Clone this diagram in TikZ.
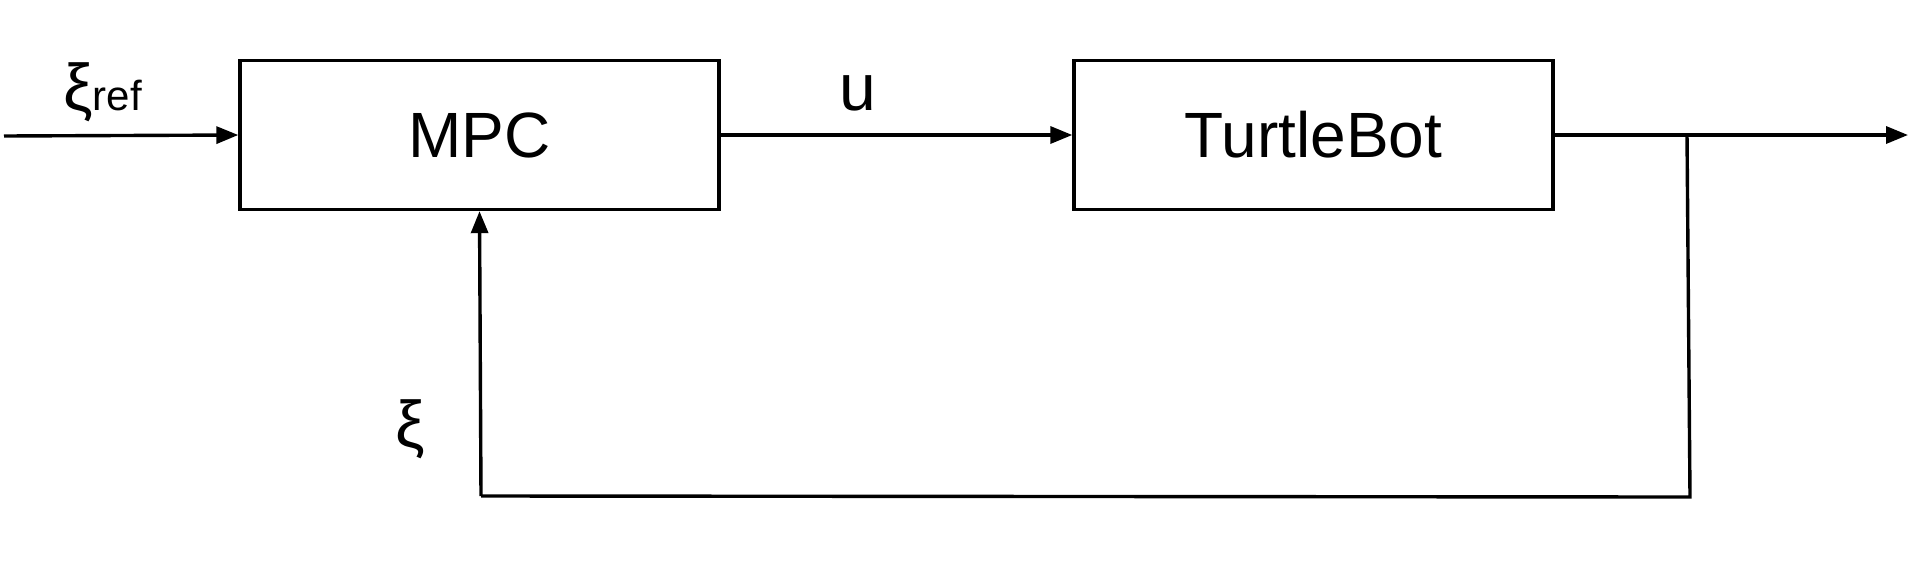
\documentclass[tikz,border=0pt]{standalone}
\usepackage{fontspec}
\setmainfont{Liberation Sans}
\usetikzlibrary{arrows.meta}
\tikzset{
  blockbox/.style={draw=black, line width=3.4pt, minimum width=479pt, minimum height=149pt, inner sep=0pt, font=\fontsize{64}{70}\selectfont},
  conn/.style={draw=black, line width=3.4pt},
  arr/.style={conn, -{Triangle[length=22pt,width=17pt]}},
  lbl/.style={inner sep=0pt, font=\fontsize{66}{72}\selectfont}
}
\begin{document}
\begin{tikzpicture}[x=1pt,y=-1pt]
\useasboundingbox (0,0) rectangle (1919,571);
\node[blockbox] (mpc) at (479.5,135) {MPC};
\node[blockbox] (tb) at (1313.5,135) {TurtleBot};
\coordinate (in) at (4,136);
\coordinate (out) at (1908,135);
\coordinate (br) at (1687,135);
\coordinate (botr) at (1690,497);
\coordinate (botl) at (481,496);
\draw[arr] (in) -- (mpc.west);
\draw[arr] (mpc.east) -- (tb.west);
\draw[arr] (tb.east) -- (out);
\draw[conn] (br) -- (botr) -- (botl);
\draw[arr] (botl) -- (mpc.south);
\node[lbl, anchor=base] (u) at (858,110) {u};
\node[lbl, anchor=base west] (xiref) at (63,110) {ξ{\fontsize{42}{46}\selectfont ref}};
\node[lbl] (xi) at (410,429) {ξ};
\end{tikzpicture}
\end{document}
